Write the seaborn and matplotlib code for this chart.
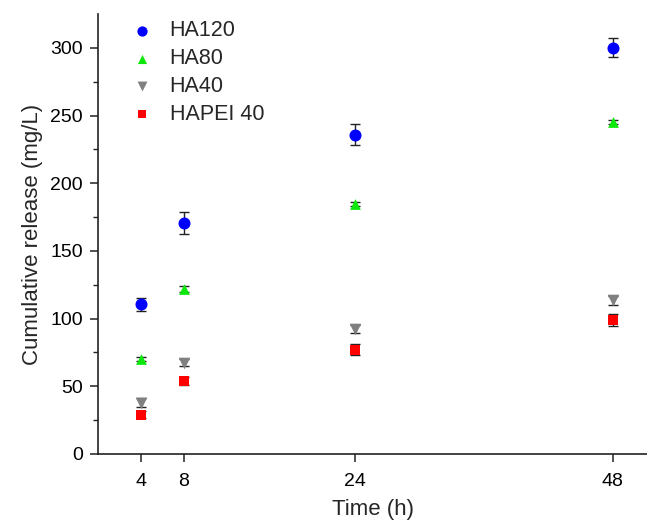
import numpy as np
import pandas as pd
import matplotlib
matplotlib.use("Agg")
import matplotlib.pyplot as plt
import seaborn as sns

# Sampling times (h)
time_h = [4, 8, 24, 48]

# Cumulative release (mg/L) and standard deviations for each sample
ha120 = [110.5, 170.5, 236.0, 300.0]
ha120_err = [5.0, 8.0, 8.0, 7.0]
ha80 = [70.5, 122.0, 184.5, 245.5]
ha80_err = [1.5, 2.0, 1.5, 1.5]
ha40 = [38.0, 67.5, 92.0, 113.5]
ha40_err = [3.0, 2.5, 3.0, 3.5]
hapei40 = [29.0, 54.0, 77.0, 99.0]
hapei40_err = [2.5, 3.0, 4.0, 4.5]

series_names = ["HA120", "HA80", "HA40", "HAPEI 40"]
x_ticks = [4, 8, 24, 48]
y_ticks = [0, 50, 100, 150, 200, 250, 300]

values = [ha120, ha80, ha40, hapei40]
errors = [ha120_err, ha80_err, ha40_err, hapei40_err]

df = pd.DataFrame({
    "Time": np.tile(time_h, len(series_names)),
    "Release": np.concatenate(values),
    "Err": np.concatenate(errors),
    "Sample": np.repeat(series_names, len(time_h)),
})

palette = {"HA120": "#0000ff", "HA80": "#0ce80c", "HA40": "#808080", "HAPEI 40": "#ff0000"}
markers = {"HA120": "o", "HA80": "^", "HA40": "v", "HAPEI 40": "s"}
sizes = {"HA120": 75, "HA80": 60, "HA40": 70, "HAPEI 40": 50}

sns.set_style("ticks")
plt.rcParams["font.family"] = ["Liberation Sans", "DejaVu Sans"]

fig = plt.figure(figsize=(6.47, 5.2), dpi=100)
ax = fig.add_axes([0.1515, 0.127, 0.8485, 0.846])

for name in series_names:
    sub = df[df["Sample"] == name]
    ax.errorbar(sub["Time"], sub["Release"], yerr=sub["Err"], fmt="none",
                ecolor="#222222", elinewidth=1.0, capsize=3.5, capthick=1.0,
                zorder=2)
    sns.scatterplot(data=sub, x="Time", y="Release", ax=ax,
                    color=palette[name], marker=markers[name],
                    s=sizes[name], linewidth=0, label=name, zorder=3)

ax.set_xlim(0, 51.2)
ax.set_ylim(0, 325)
ax.set_xticks(x_ticks)
ax.set_yticks(y_ticks)
ax.set_yticks(np.arange(25, 325, 50), minor=True)
ax.tick_params(axis="both", which="major", direction="out", length=6,
               width=1.1, labelsize=14, colors="#222222", labelcolor="black",
               pad=5)
ax.tick_params(axis="x", which="major", pad=8)
ax.tick_params(axis="y", which="minor", direction="out", length=3.5, width=1.0,
               colors="#222222")
for side in ["top", "right"]:
    ax.spines[side].set_visible(False)
for side in ["left", "bottom"]:
    ax.spines[side].set_linewidth(1.2)
    ax.spines[side].set_color("#222222")

ax.set_xlabel("Time (h)", fontsize=16, labelpad=6)
ax.set_ylabel("Cumulative release (mg/L)", fontsize=16, labelpad=5)

leg = ax.legend(loc="upper left", bbox_to_anchor=(0.013, 1.02), frameon=False,
                fontsize=15.5, handletextpad=0.3, labelspacing=0.32,
                borderaxespad=0.3, markerscale=0.85)

fig.savefig("out.png", dpi=100)
